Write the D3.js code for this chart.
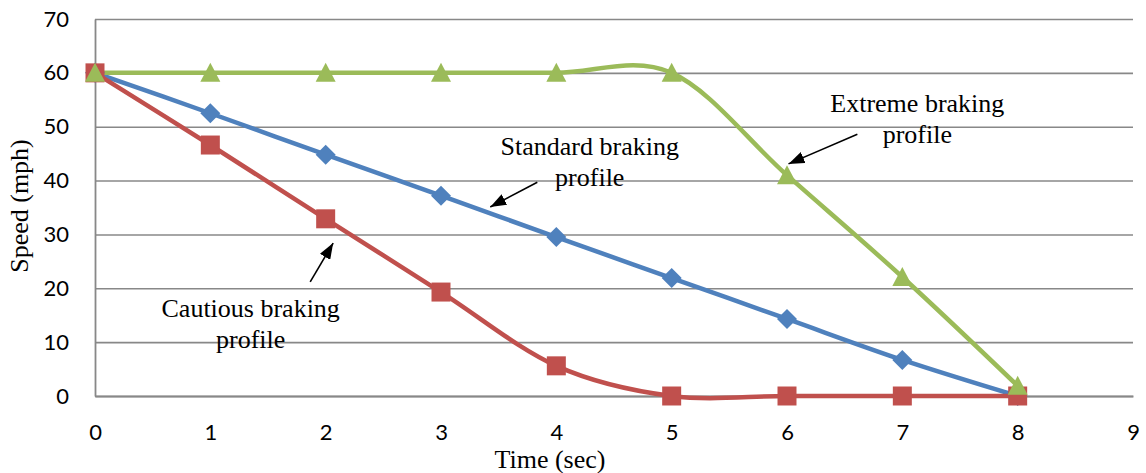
<!DOCTYPE html>
<html>
<head>
<meta charset="utf-8">
<script src="https://cdn.jsdelivr.net/npm/d3@7"></script>
<style>
  body { margin: 0; background: #fff; }
</style>
</head>
<body>
<script>
const width = 1146;
const height = 473;
const margin = {top: 19, right: 12, bottom: 77, left: 95};

// time (sec)
const times = [0, 1, 2, 3, 4, 5, 6, 7, 8];
// speed (mph) per braking profile
const standard = [60, 52.5, 44.8, 37.2, 29.5, 21.9, 14.3, 6.7, 0];
const cautious = [60, 46.6, 32.9, 19.3, 5.6, 0, 0, 0, 0];
const extreme = [60, 60, 60, 60, 60, 60, 41, 22.1, 1.9];

const xTicks = [0, 1, 2, 3, 4, 5, 6, 7, 8, 9];
const yTicks = [0, 10, 20, 30, 40, 50, 60, 70];

const series = [
  {name: 'Standard', values: standard, color: '#4f81bd', shape: 'diamond'},
  {name: 'Cautious', values: cautious, color: '#c0504d', shape: 'square'},
  {name: 'Extreme', values: extreme, color: '#9bbb59', shape: 'triangle'}
];

// text callouts, in data units
const notes = [
  {lines: ['Standard braking', 'profile'], t: 4.29, v: 44.7, from: [3.835, 39.7], to: [3.427, 35.1]},
  {lines: ['Extreme braking', 'profile'], t: 7.13, v: 52.7, from: [6.61, 48.6], to: [6.013, 43.1]},
  {lines: ['Cautious braking', 'profile'], t: 1.35, v: 14.7, from: [1.866, 21.2], to: [2.065, 28.4]}
];

const x = d3.scaleLinear()
  .domain([0, 9])
  .range([margin.left, width - margin.right - 1]);

const y = d3.scaleLinear()
  .domain([0, 70])
  .range([height - margin.bottom, margin.top]);

const svg = d3.select('body').append('svg')
  .attr('width', width)
  .attr('height', height);

svg.append('defs').append('marker')
  .attr('id', 'arrow')
  .attr('markerUnits', 'userSpaceOnUse')
  .attr('viewBox', '0 0 16 12')
  .attr('refX', 16).attr('refY', 6)
  .attr('markerWidth', 16).attr('markerHeight', 12)
  .attr('orient', 'auto')
  .append('path')
  .attr('d', 'M0,0L16,6L0,12Z')
  .attr('fill', '#000');

// gridlines
svg.append('g')
  .attr('transform', `translate(${margin.left},0)`)
  .call(d3.axisLeft(y).tickValues(yTicks).tickSize(-(x(9) - x(0))).tickFormat(''))
  .call(g => g.select('.domain').remove())
  .call(g => g.selectAll('.tick line').attr('stroke', '#888').attr('stroke-width', 1.6));

// axes
const yAxis = svg.append('g')
  .attr('transform', `translate(${margin.left},0)`)
  .call(d3.axisLeft(y).tickValues(yTicks).tickSize(0).tickPadding(26));

const xAxis = svg.append('g')
  .attr('transform', `translate(0,${y(0)})`)
  .call(d3.axisBottom(x).tickValues(xTicks).tickSize(0).tickPadding(28));

for (const g of [xAxis, yAxis]) {
  g.select('.domain').attr('stroke', '#888').attr('stroke-width', 1.8);
  g.selectAll('.tick text')
    .attr('font-family', 'Lato, "Open Sans", sans-serif')
    .attr('font-size', 22)
    .attr('fill', '#000');
}

svg.append('text')
  .attr('x', 550).attr('y', 468)
  .attr('text-anchor', 'middle')
  .attr('font-family', '"Liberation Serif", "Times New Roman", serif')
  .attr('font-size', 26)
  .text('Time (sec)');

svg.append('text')
  .attr('transform', 'translate(28,206) rotate(-90)')
  .attr('text-anchor', 'middle')
  .attr('font-family', '"Liberation Serif", "Times New Roman", serif')
  .attr('font-size', 26)
  .text('Speed (mph)');

const line = d3.line()
  .x((d, i) => x(times[i]))
  .y(d => y(d))
  .curve(d3.curveCardinal.tension(0));

const shapes = {
  diamond: 'M0,-10L10,0L0,10L-10,0Z',
  square: 'M-9.5,-9.5H9.5V9.5H-9.5Z',
  triangle: 'M0,-10L10,9L-10,9Z'
};

for (const s of series) {
  svg.append('path')
    .datum(s.values)
    .attr('fill', 'none')
    .attr('stroke', s.color)
    .attr('stroke-width', 4.5)
    .attr('stroke-linejoin', 'round')
    .attr('d', line);
}

for (const s of series) {
  svg.append('g').selectAll('path')
    .data(s.values)
    .join('path')
    .attr('transform', (d, i) => `translate(${x(times[i])},${y(d)})`)
    .attr('d', shapes[s.shape])
    .attr('fill', s.color);
}

// callouts
for (const n of notes) {
  const t = svg.append('text')
    .attr('text-anchor', 'middle')
    .attr('font-family', '"Liberation Serif", "Times New Roman", serif')
    .attr('font-size', 26)
    .attr('fill', '#000');
  n.lines.forEach((l, i) => {
    t.append('tspan')
      .attr('x', x(n.t))
      .attr('y', y(n.v) + i * 31)
      .text(l);
  });
  svg.append('line')
    .attr('x1', x(n.from[0])).attr('y1', y(n.from[1]))
    .attr('x2', x(n.to[0])).attr('y2', y(n.to[1]))
    .attr('stroke', '#000')
    .attr('stroke-width', 1.6)
    .attr('marker-end', 'url(#arrow)');
}
</script>
</body>
</html>
